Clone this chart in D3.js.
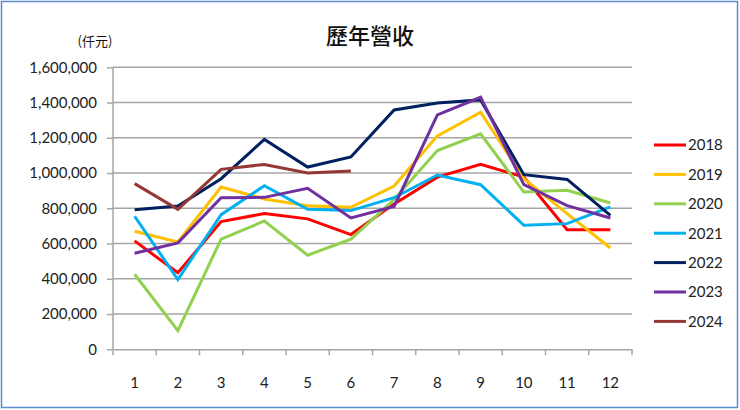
<!DOCTYPE html>
<html><head><meta charset="utf-8">
<script src="https://cdn.jsdelivr.net/npm/d3@7"></script>
<style>body{margin:0;background:#fff}svg{display:block}</style>
</head><body><svg id="c" width="740" height="410"></svg>
<script>
const months = ["1","2","3","4","5","6","7","8","9","10","11","12"];
const years = ["2018","2019","2020","2021","2022","2023","2024"];
const colors = ["#ff0000","#ffc000","#92d050","#00b0f0","#002060","#7030a0","#953735"];
const yTicks = [0,200000,400000,600000,800000,1000000,1200000,1400000,1600000];
const v2018 = [615000,434000,725000,770000,740000,651000,825000,977000,1049000,977000,679000,679000];
const v2019 = [670000,609000,921000,853000,815000,806000,926000,1211000,1345000,968000,770000,575000];
const v2020 = [426000,106000,625000,728000,534000,625000,850000,1128000,1223000,892000,902000,830000];
const v2021 = [755000,396000,764000,928000,794000,787000,860000,989000,934000,704000,713000,808000];
const v2022 = [792000,813000,968000,1191000,1034000,1091000,1358000,1398000,1415000,991000,964000,760000];
const v2023 = [545000,604000,860000,862000,913000,745000,811000,1330000,1430000,934000,815000,745000];
const v2024 = [940000,794000,1021000,1049000,1000000,1011000];
const series = [v2018,v2019,v2020,v2021,v2022,v2023,v2024];

const svg = d3.select("#c");
const L=113,R=632,T=67.3,B=349.3;
const x = d3.scaleBand().domain(months).range([L,R]);
const y = d3.scaleLinear().domain([0,1600000]).range([B,T]);
const font = "Lato, 'Liberation Sans', sans-serif";

svg.append("rect").attr("x",1.5).attr("y",1.5).attr("width",736).attr("height",406)
  .attr("fill","#fff").attr("stroke","#5b8bd0").attr("stroke-width",1.5);

// gridlines
svg.append("g").selectAll("line").data(yTicks.filter(d=>d>0)).join("line")
  .attr("x1",L).attr("x2",R).attr("y1",d=>y(d)).attr("y2",d=>y(d))
  .attr("stroke","#a6a6a6").attr("stroke-width",1.5);

// y axis
const ya = svg.append("g").attr("transform",`translate(${L},0)`)
  .call(d3.axisLeft(y).tickValues(yTicks).tickFormat(d3.format(",")).tickSize(6).tickPadding(10));
ya.select(".domain").attr("stroke","#a6a6a6").attr("stroke-width",1.5).attr("d",`M0,${B}V${T}`);
ya.selectAll(".tick line").attr("stroke","#a6a6a6").attr("stroke-width",1.5);
ya.selectAll("text").attr("font-family",font).attr("font-size",15).attr("fill","#222");

// x axis
const xa = svg.append("g").attr("transform",`translate(0,${B})`)
  .call(d3.axisBottom(x).tickSize(0).tickPadding(28));
xa.select(".domain").attr("stroke","#a6a6a6").attr("stroke-width",1.5);
xa.selectAll("text").attr("font-family",font).attr("font-size",15).attr("fill","#222");
const bounds = months.map(m=>x(m)).concat([R]);
xa.append("g").selectAll("line").data(bounds).join("line")
  .attr("x1",d=>d).attr("x2",d=>d).attr("y1",0).attr("y2",6)
  .attr("stroke","#a6a6a6").attr("stroke-width",1.5);

// lines
const line = d3.line().x((d,i)=>x(months[i])+x.bandwidth()/2).y(d=>y(d));
svg.append("g").selectAll("path").data(series).join("path")
  .attr("d",d=>line(d)).attr("fill","none")
  .attr("stroke",(d,i)=>colors[i]).attr("stroke-width",3).attr("stroke-linejoin","miter");

// legend
const lg = svg.append("g").selectAll("g").data(years).join("g")
  .attr("transform",(d,i)=>`translate(654,${145+i*29.4})`);
lg.append("line").attr("x1",0).attr("x2",32).attr("stroke",(d,i)=>colors[i]).attr("stroke-width",3);
lg.append("text").attr("x",34).attr("dy","0.36em").text(d=>d)
  .attr("font-family",font).attr("font-size",15).attr("fill","#222");

// title
svg.append("text").attr("x",370).attr("y",44).attr("text-anchor","middle")
  .attr("font-family","'Noto Sans CJK TC', sans-serif").attr("font-size",22).attr("font-weight",500).attr("fill","#111")
  .text("歷年營收");
svg.append("text").attr("x",95).attr("y",46).attr("text-anchor","middle")
  .attr("font-family","'Noto Sans CJK TC', sans-serif").attr("font-size",13).attr("fill","#111")
  .text("(仟元)");
</script></body></html>
